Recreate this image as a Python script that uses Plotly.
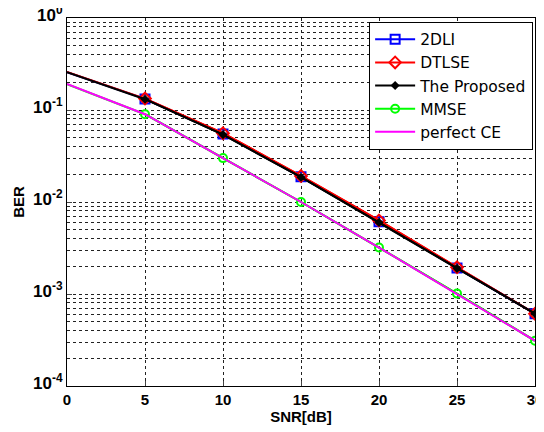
import plotly.graph_objects as go

snr = [0, 5, 10, 15, 20, 25, 30]
ber_2dli = [0.258, 0.132, 0.055, 0.0188, 0.0061, 0.00192, 0.00061]
ber_dtlse = [0.259, 0.133, 0.056, 0.0192, 0.0063, 0.00195, 0.00061]
ber_proposed = [0.258, 0.131, 0.054, 0.0186, 0.0060, 0.00190, 0.00061]
ber_mmse = [0.191, 0.090, 0.030, 0.0100, 0.0032, 0.00101, 0.00031]
ber_perfect = [0.192, 0.090, 0.030, 0.0100, 0.0032, 0.00100, 0.00031]

y_tickvals = [1e-4, 1e-3, 1e-2, 1e-1, 1]
y_ticktext = ["10<sup>-4</sup>", "10<sup>-3</sup>", "10<sup>-2</sup>", "10<sup>-1</sup>", "10<sup>0</sup>"]
x_ticks = [0, 5, 10, 15, 20, 25, 30]

series = [
    ("2DLI", ber_2dli, "#0000ff", dict(symbol="square-open", size=9, line=dict(width=2, color="#0000ff"))),
    ("DTLSE", ber_dtlse, "#ff0000", dict(symbol="diamond-open", size=9, line=dict(width=2, color="#ff0000"))),
    ("The Proposed", ber_proposed, "#000000", dict(symbol="diamond", size=7, color="#000000")),
    ("MMSE", ber_mmse, "#00ff00", dict(symbol="circle-open", size=8, line=dict(width=2, color="#00ff00"))),
    ("perfect CE", ber_perfect, "#ff00ff", None),
]

fig = go.Figure()
for name, ys, col, mk in series:
    if mk is None:
        fig.add_trace(go.Scatter(x=snr, y=ys, mode="lines", name=name,
                                 line=dict(color=col, width=2)))
    else:
        fig.add_trace(go.Scatter(x=snr, y=ys, mode="lines", name=name, legendgroup=name,
                                 showlegend=False, line=dict(color=col, width=2)))
        fig.add_trace(go.Scatter(x=snr[1:], y=ys[1:], mode="lines+markers", name=name,
                                 legendgroup=name, line=dict(color=col, width=2), marker=mk))

font_bold = "Liberation Sans"
grid = dict(showgrid=True, gridcolor="#222222", griddash="3px,3px", gridwidth=1)
# the page body has an 8px margin, so the figure is drawn 8px lower and right
fig.update_layout(
    width=544, height=432,
    margin=dict(l=59, r=17, t=10, b=54),
    paper_bgcolor="white", plot_bgcolor="white",
    font=dict(family=font_bold, color="black", size=14),
    legend=dict(x=0.996, y=0.99, xanchor="right", yanchor="top",
                bgcolor="white", bordercolor="black", borderwidth=1,
                font=dict(size=15.5, family="DejaVu Sans"), tracegroupgap=0,
                itemwidth=40),
    xaxis=dict(range=[0, 30], tickvals=x_ticks, ticks="inside", ticklen=5,
               showline=True, mirror=True, linecolor="black", linewidth=1,
               zeroline=False, automargin=False, ticklabeloverflow="allow", **grid,
               tickfont=dict(size=15, family=font_bold, weight="bold"),
               title=dict(text="SNR[dB]", font=dict(size=15, weight="bold"), standoff=2)),
    yaxis=dict(type="log", range=[-4, 0], tickvals=y_tickvals, ticktext=y_ticktext,
               ticks="inside", ticklen=5, ticklabelshift=-3,
               showline=True, mirror=True, linecolor="black", linewidth=1,
               zeroline=False, automargin=False, ticklabeloverflow="allow", **grid,
               minor=dict(dtick="D1", ticks="", **grid),
               tickfont=dict(size=17, family=font_bold, weight="bold"),
               title=dict(text="BER", font=dict(size=15, weight="bold"), standoff=4)),
)

fig.write_html("out.html")
